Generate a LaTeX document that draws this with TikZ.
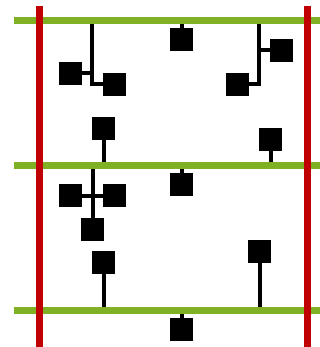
\documentclass[tikz,border=0pt]{standalone}
\usetikzlibrary{backgrounds}
\definecolor{busgreen}{RGB}{128,176,36}
\definecolor{railred}{RGB}{192,0,0}
\begin{document}
\begin{tikzpicture}[x=1pt,y=-1pt,
  sq/.style={fill=black, minimum size=23pt, inner sep=0pt, draw=none},
  conn/.style={line width=4pt, black},
  bus/.style={line width=7pt, busgreen},
  rail/.style={line width=7pt, railred}]
\useasboundingbox (0,0) rectangle (320,347);
% bus ends
\coordinate (b1w) at (14,20.5);  \coordinate (b1e) at (320,20.5);
\coordinate (b2w) at (14,165.5); \coordinate (b2e) at (320,165.5);
\coordinate (b3w) at (14,310.5); \coordinate (b3e) at (320,310.5);
\coordinate (r1n) at (39.5,6);   \coordinate (r1s) at (39.5,347);
\coordinate (r2n) at (307.5,6);  \coordinate (r2s) at (307.5,347);
\coordinate (t1) at (92,20.5);
\coordinate (t2) at (259,20.5);
% squares
\node[sq] (A) at (70.5,73.5) {};
\node[sq] (B) at (114.5,84.5) {};
\node[sq] (C) at (181.5,39.5) {};
\node[sq] (D) at (281.5,50.5) {};
\node[sq] (E) at (237.5,84.5) {};
\node[sq] (F) at (103.5,128.5) {};
\node[sq] (G) at (270.5,139.5) {};
\node[sq] (H) at (181.5,184.5) {};
\node[sq] (I) at (70.5,195.5) {};
\node[sq] (K) at (114.5,195.5) {};
\node[sq] (J) at (92.5,229.5) {};
\node[sq] (L) at (103.5,262.5) {};
\node[sq] (M) at (259.5,251.5) {};
\node[sq] (N) at (181.5,329.5) {};
\begin{scope}[on background layer]
% connectors
\draw[conn] (t1) |- (B);
\draw[conn] (A) -- (A -| t1);
\draw[conn] (C) -- (C |- b1w);
\draw[conn] (t2) |- (E);
\draw[conn] (D) -- (D -| t2);
\draw[conn] (F) -- (F |- b2w);
\draw[conn] (G) -- (G |- b2w);
\draw[conn] (H) -- (H |- b2w);
\draw[conn] (J) -- (J |- b2w);
\draw[conn] (I) -- (K);
\draw[conn] (L) -- (L |- b3w);
\draw[conn] (M) -- (M |- b3w);
\draw[conn] (N) -- (N |- b3w);
\end{scope}
% buses and rails
\draw[bus] (b1w) -- (b1e);
\draw[bus] (b2w) -- (b2e);
\draw[bus] (b3w) -- (b3e);
\draw[rail] (r1n) -- (r1s);
\draw[rail] (r2n) -- (r2s);
\end{tikzpicture}
\end{document}
